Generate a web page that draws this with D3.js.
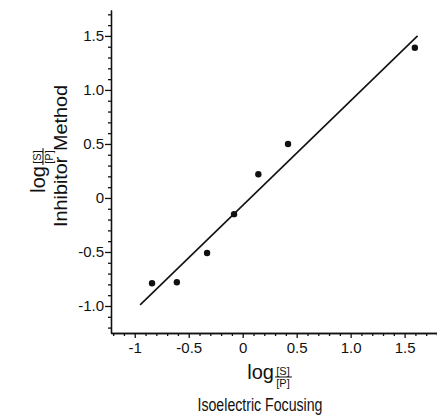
<!DOCTYPE html>
<html lang="en">
<head>
    <meta charset="UTF-8">
    <title>log S/P</title>
    <style>
        body { margin: 0; background: #fff; }
        svg { display: block; }
        .axis path,
        .axis line {
            fill: none;
            stroke: #111;
            stroke-width: 1.3;
        }
        .axis text {
            font-family: "Liberation Sans", Arial, sans-serif;
            font-size: 15px;
            fill: #111;
        }
        .lbl {
            font-family: "Liberation Sans", Arial, sans-serif;
            fill: #111;
        }
    </style>
</head>
<body>
    <svg></svg>
    <script src="https://cdn.jsdelivr.net/npm/d3@7"></script>
    <script>
        // punkte (isoelectric focusing vs inhibitor method)
        var xVals = [-0.84, -0.61, -0.33, -0.08, 0.145, 0.42, 1.595]
        var yVals = [-0.79, -0.78, -0.51, -0.15, 0.22, 0.50, 1.39]
        // regressionsgerade, endpunkte
        var lineX = [-0.95, 1.62]
        var lineY = [-0.99, 1.50]
        // ticks
        var xTicks = [-1, -0.5, 0, 0.5, 1.0, 1.5]
        var xTickLabels = ['-1', '-0.5', '0', '0.5', '1.0', '1.5']
        var yTicks = [-1.0, -0.5, 0, 0.5, 1.0, 1.5]
        var yTickLabels = ['-1.0', '-0.5', '0', '0.5', '1.0', '1.5']

        var W = 437, H = 419
        var svg = d3.select('svg')
            .attr('width', W)
            .attr('height', H)

        var x = d3.scaleLinear()
            .domain([-1.22, 1.8])
            .range([111, 437])

        var y = d3.scaleLinear()
            .domain([-1.25, 1.74])
            .range([333, 10])

        // kleine ticks alle 0.1
        var xMinor = d3.range(-12, 19).map(function (d) { return d / 10 })
            .filter(function (d) { return Math.abs(d * 2 - Math.round(d * 2)) > 1e-6 })
        var yMinor = d3.range(-12, 18).map(function (d) { return d / 10 })
            .filter(function (d) { return Math.abs(d * 2 - Math.round(d * 2)) > 1e-6 })

        svg.append('g')
            .attr('class', 'axis')
            .attr('transform', 'translate(0,' + y.range()[0] + ')')
            .call(d3.axisBottom(x).tickValues(xMinor).tickSize(3).tickFormat('').tickSizeOuter(0))

        svg.append('g')
            .attr('class', 'axis')
            .attr('transform', 'translate(0,' + y.range()[0] + ')')
            .call(d3.axisBottom(x).tickValues(xTicks).tickSize(5).tickSizeOuter(0)
                .tickPadding(4)
                .tickFormat(function (d, i) { return xTickLabels[i] }))

        svg.append('g')
            .attr('class', 'axis')
            .attr('transform', 'translate(' + x.range()[0] + ',0)')
            .call(d3.axisLeft(y).tickValues(yMinor).tickSize(3).tickFormat('').tickSizeOuter(0))

        svg.append('g')
            .attr('class', 'axis')
            .attr('transform', 'translate(' + x.range()[0] + ',0)')
            .call(d3.axisLeft(y).tickValues(yTicks).tickSize(6).tickSizeOuter(0)
                .tickPadding(1)
                .tickFormat(function (d, i) { return yTickLabels[i] }))

        // gerade
        svg.append('line')
            .attr('x1', x(lineX[0])).attr('y1', y(lineY[0]))
            .attr('x2', x(lineX[1])).attr('y2', y(lineY[1]))
            .attr('stroke', '#111')
            .attr('stroke-width', 1.6)

        svg.selectAll('.dot')
            .data(xVals)
            .enter()
            .append('circle')
            .attr('class', 'dot')
            .attr('cx', function (d) { return x(d) })
            .attr('cy', function (d, i) { return y(yVals[i]) })
            .attr('r', 3.2)
            .attr('fill', '#111')

        // "log [S]/[P]" mit bruch
        function logFrac(g) {
            g.append('text').attr('class', 'lbl')
                .attr('x', 0).attr('y', 0)
                .attr('text-anchor', 'end')
                .style('font-size', '20px')
                .text('log')
            g.append('text').attr('class', 'lbl')
                .attr('x', 9).attr('y', -4)
                .attr('text-anchor', 'middle')
                .style('font-size', '11px')
                .text('[S]')
            g.append('line')
                .attr('x1', 1).attr('x2', 18)
                .attr('y1', -2).attr('y2', -2)
                .attr('stroke', '#111').attr('stroke-width', 1)
            g.append('text').attr('class', 'lbl')
                .attr('x', 9).attr('y', 8)
                .attr('text-anchor', 'middle')
                .style('font-size', '11px')
                .text('[P]')
        }

        // x-achsen beschriftung
        var xl = svg.append('g').attr('transform', 'translate(274,379)')
        logFrac(xl)
        svg.append('text').attr('class', 'lbl')
            .attr('x', 260).attr('y', 411)
            .attr('text-anchor', 'middle')
            .attr('textLength', 125)
            .attr('lengthAdjust', 'spacingAndGlyphs')
            .style('font-size', '18px')
            .text('Isoelectric Focusing')

        // y-achsen beschriftung (gedreht)
        var yl = svg.append('g').attr('transform', 'translate(45,166) rotate(-90)')
        logFrac(yl)
        svg.append('text').attr('class', 'lbl')
            .attr('transform', 'translate(67,156) rotate(-90)')
            .attr('text-anchor', 'middle')
            .attr('textLength', 142)
            .attr('lengthAdjust', 'spacingAndGlyphs')
            .style('font-size', '19px')
            .text('Inhibitor Method')
    </script>
</body>
</html>
